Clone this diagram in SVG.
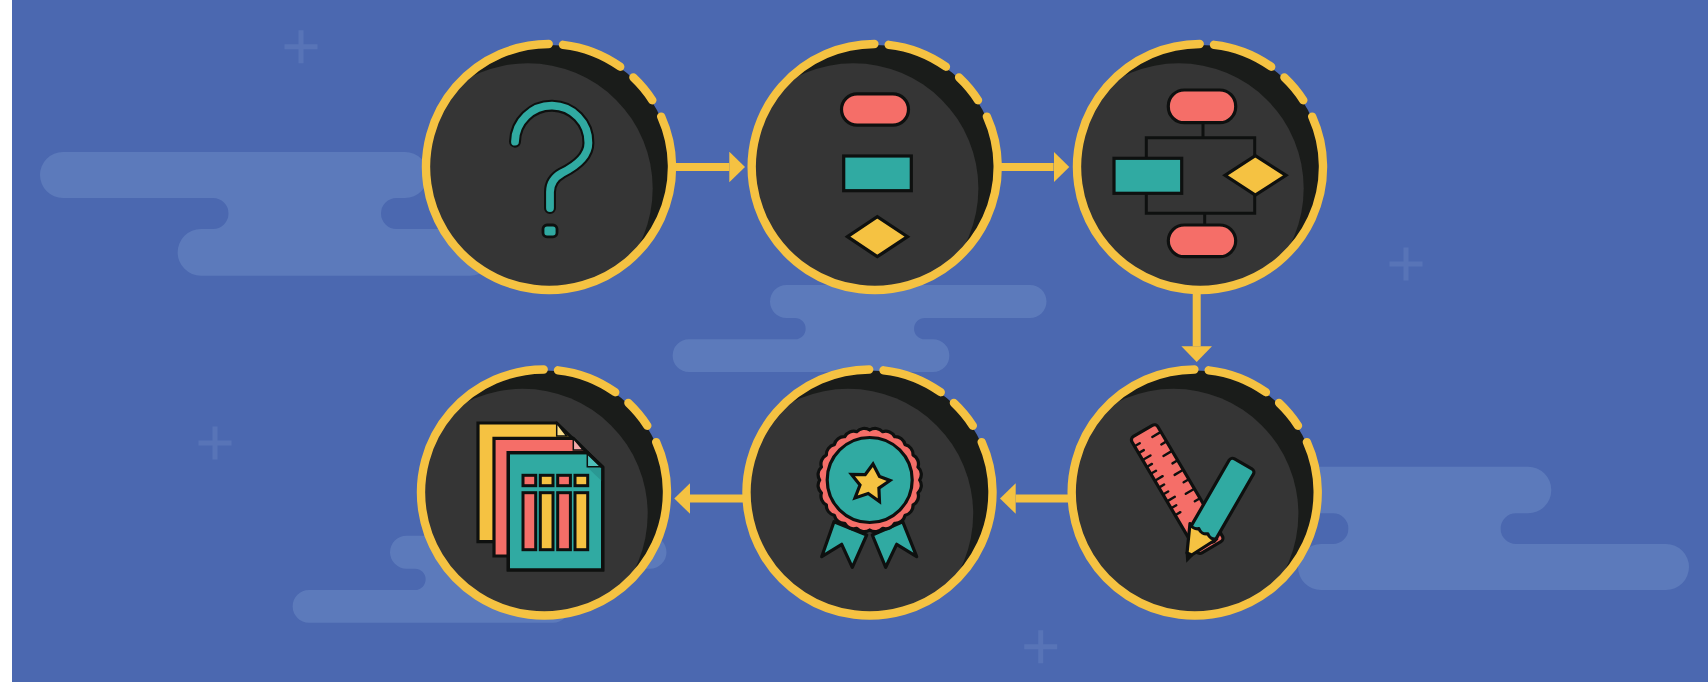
<svg xmlns="http://www.w3.org/2000/svg" xmlns:xlink="http://www.w3.org/1999/xlink" width="1708" height="682" viewBox="0 0 1708 682">
<style>
.cloud{fill:#5c7abb}
.cross{fill:#5874b7}
.conn{stroke:#f5c242;stroke-width:8;fill:none}
.ink{stroke:#0e100f;stroke-width:3.2;stroke-linejoin:round;stroke-linecap:round}
.sharp{stroke:#0e100f;stroke-width:3.2;stroke-linejoin:miter}
.wire{stroke:#0e100f;stroke-width:3;fill:none}
.tick{stroke:#0e100f;stroke-width:2.4;fill:none;stroke-linecap:round}
.teal{fill:#30aaa2}.red{fill:#f56e68}.yel{fill:#f5c242}
</style>
<defs>
<marker id="head" markerUnits="userSpaceOnUse" markerWidth="16" markerHeight="31" refX="0" refY="15.3" orient="auto"><path d="M0,0L15.7,15.3L0,30.6Z" fill="#f5c242"/></marker>
<clipPath id="discClip"><circle r="121"/></clipPath>
<g id="disc">
<circle r="122" fill="#1a1c1a"/>
<g clip-path="url(#discClip)"><circle cx="-21.3" cy="21.3" r="125" fill="#353535"/></g>
<path d="M112.2,-50.4A123,123 0 1 1 -0.3,-123M14,-122.2A123,123 0 0 1 71.2,-100.3M84.4,-89.5A123,123 0 0 1 103.3,-66.8" fill="none" stroke="#f5c242" stroke-width="8.4" stroke-linecap="round"/>
</g>
<path id="cloudA" class="cloud" d="M786.5,285H1030a16.5,16.5 0 0 1 0,33H924.7a10.65,10.65 0 0 0 0,21.3H933a16.35,16.35 0 0 1 0,32.7H689a16.35,16.35 0 0 1 0,-32.7H795a10.65,10.65 0 0 0 0,-21.3H786.5a16.5,16.5 0 0 1 0,-33Z"/>
<path id="plus" class="cross" d="M-2.5,-16.5H2.5V-2.5H16.5V2.5H2.5V16.5H-2.5V2.5H-16.5V-2.5H-2.5Z"/>
</defs>
<rect width="1708" height="682" fill="#fff"/>
<rect x="12" width="1696" height="682" fill="#4b68b0"/>
<g id="background">
<path class="cloud" d="M63,152H405a23,23 0 0 1 0,46H396.5a15.5,15.5 0 0 0 0,31H470a23.3,23.3 0 0 1 0,46.7H201a23.3,23.3 0 0 1 0,-46.7H213a15.5,15.5 0 0 0 0,-31H63a23,23 0 0 1 0,-46Z"/>
<use xlink:href="#cloudA" href="#cloudA"/>
<use xlink:href="#cloudA" href="#cloudA" transform="translate(-380,250.7)"/>
<path class="cloud" d="M1300,466.7H1528a23.3,23.3 0 0 1 0,46.6H1516a15.35,15.35 0 0 0 0,30.7H1666a23,23 0 0 1 0,46H1321a23,23 0 0 1 0,-46H1333a15.35,15.35 0 0 0 0,-30.7H1300a23.3,23.3 0 0 1 0,-46.6Z"/>
<use href="#plus" transform="translate(301,46.7)"/>
<use href="#plus" transform="translate(1406,264)"/>
<use href="#plus" transform="translate(215,443)"/>
<use href="#plus" transform="translate(1040.7,646.7)"/>
</g>
<g id="connectors">
<line class="conn" x1="676" y1="167" x2="729.3" y2="167" marker-end="url(#head)"/>
<line class="conn" x1="1001" y1="167" x2="1053.6" y2="167" marker-end="url(#head)"/>
<line class="conn" x1="1196.7" y1="293" x2="1196.7" y2="346.3" marker-end="url(#head)"/>
<line class="conn" x1="1068" y1="498.5" x2="1015.7" y2="498.5" marker-end="url(#head)"/>
<line class="conn" x1="743" y1="498.5" x2="690" y2="498.5" marker-end="url(#head)"/>
</g>
<g id="node-question">
<use href="#disc" transform="translate(549,167)"/>
<path d="M515,141.7A36.7,36.7 0 0 1 588.4,143C588.4,158 574,167 562,173C553,178 550,184 550,192V208" fill="none" stroke="#0e100f" stroke-width="12" stroke-linecap="round"/>
<path d="M515,141.7A36.7,36.7 0 0 1 588.4,143C588.4,158 574,167 562,173C553,178 550,184 550,192V208" fill="none" stroke="#30aaa2" stroke-width="7.8" stroke-linecap="round"/>
<rect class="teal" x="543" y="225" width="14" height="11.8" rx="4" stroke="#0e100f" stroke-width="2.8"/>
</g>
<g id="node-shapes">
<use href="#disc" transform="translate(874.7,167)"/>
<rect class="red ink" x="841.5" y="93.8" width="67" height="31.4" rx="15.7"/>
<rect class="teal sharp" x="843.7" y="156" width="67.6" height="34.7"/>
<path class="yel sharp" d="M847.5,236.7L877.3,216.7L907.5,236.7L877.3,256.7Z"/>
</g>
<g id="node-flowchart">
<use href="#disc" transform="translate(1200,167)"/>
<path class="wire" d="M1203,123V137.7M1146.3,158V137.7H1254.7V157M1146.3,193V213.3H1254.7V194M1204.7,213.3V225"/>
<rect class="red ink" x="1168.3" y="90" width="67.4" height="32.7" rx="16"/>
<rect class="red ink" x="1168.3" y="225" width="67.4" height="31.7" rx="16"/>
<rect class="teal sharp" x="1114" y="158.3" width="67.7" height="35"/>
<path class="yel sharp" d="M1225,175.3L1255.3,155.7L1286,175.3L1255.3,195Z"/>
</g>
<g id="node-document">
<use href="#disc" transform="translate(544,492.5)"/>
<path class="yel sharp" d="M478,423H556.7L602,467V541.7H478Z"/>
<path d="M556.7,423L566.7,436H556.7Z" fill="#f8dc8a" stroke="#0e100f" stroke-width="1.5"/>
<path class="red sharp" d="M494,438.3H573.3L602,467V556H494Z"/>
<path d="M573.3,438.3L583.3,450H573.3Z" fill="#f5a8a8" stroke="#0e100f" stroke-width="1.5"/>
<path class="teal sharp" d="M508.3,452.7H587.3L602.7,467.3V570H508.3Z"/>
<path d="M587.3,467.3H602.7V482Z" fill="#2a9893"/>
<path d="M587.3,452.7L601,466.7H587.3Z" fill="#4fc0bb" stroke="#0e100f" stroke-width="1.5"/>
<path d="M508.3,452.7H587.3L602.7,467.3V570H508.3Z" fill="none" stroke="#0e100f" stroke-width="3.2"/>
<g stroke="#0e100f" stroke-width="3">
<rect class="red" x="523" y="475.3" width="12.7" height="10.4"/>
<rect class="yel" x="540.3" y="475.3" width="12.7" height="10.4"/>
<rect class="red" x="557.7" y="475.3" width="12.7" height="10.4"/>
<rect class="yel" x="575" y="475.3" width="12.7" height="10.4"/>
<rect class="red" x="523" y="492.7" width="12.7" height="57"/>
<rect class="yel" x="540.3" y="492.7" width="12.7" height="57"/>
<rect class="red" x="557.7" y="492.7" width="12.7" height="57"/>
<rect class="yel" x="575" y="492.7" width="12.7" height="57"/>
</g>
</g>
<g id="node-medal">
<use href="#disc" transform="translate(869.5,492.5)"/>
<path class="teal ink" d="M834,521.7L821.7,556.7L841.7,544.3L852.3,567.3L866.7,535Z"/>
<path class="teal ink" d="M902.7,521.7L916.7,556.7L896.7,544.3L885.7,567.3L872.3,535Z"/>
<g transform="translate(869.7,480)">
<path class="red ink" transform="scale(1.01)" d="M49.5,0A10,10 0 0 1 47.8,12.8A10,10 0 0 1 42.9,24.75A10,10 0 0 1 35,35A10,10 0 0 1 24.75,42.9A10,10 0 0 1 12.8,47.8A10,10 0 0 1 0,49.5A10,10 0 0 1 -12.8,47.8A10,10 0 0 1 -24.75,42.9A10,10 0 0 1 -35,35A10,10 0 0 1 -42.9,24.75A10,10 0 0 1 -47.8,12.8A10,10 0 0 1 -49.5,0A10,10 0 0 1 -47.8,-12.8A10,10 0 0 1 -42.9,-24.75A10,10 0 0 1 -35,-35A10,10 0 0 1 -24.75,-42.9A10,10 0 0 1 -12.8,-47.8A10,10 0 0 1 0,-49.5A10,10 0 0 1 12.8,-47.8A10,10 0 0 1 24.75,-42.9A10,10 0 0 1 35,-35A10,10 0 0 1 42.9,-24.75A10,10 0 0 1 47.8,-12.8A10,10 0 0 1 49.5,0Z"/>
<circle class="teal ink" r="42.5"/>
</g>
<path class="yel sharp" stroke-miterlimit="8" d="M873,464L879.5,476.5L890,480.5L878.9,488.1L879.5,501.5L868.2,493.5L855,498L860,485.1L851.5,474.5L865.2,474.7Z"/>
</g>
<g id="node-tools">
<use href="#disc" transform="translate(1194.7,492.5)"/>
<g transform="translate(1130,438.5) rotate(-30.5)">
<rect class="red ink" width="30" height="135" rx="4"/>
<path class="tick" d="M1,9H6M1,17H6M1,25H9M1,33H6M1,41H6M1,49H9M1,57H6M1,65H6M1,73H9M1,81H6M1,89H6M29,10H20M29,21H24M29,32H20M29,43H24M29,54H20M29,65H24M29,76H20M29,87H24"/>
</g>
<rect class="teal ink" x="-14" y="-113" width="28" height="84" rx="4" transform="translate(1186.7,561.7) rotate(30)"/>
<path class="yel ink" d="M1190,523.5A8,8 0 0 0 1198.9,528.7A8,8 0 0 0 1207.8,533.8A8,8 0 0 0 1216.7,539L1191.7,555L1187,553Z"/>
<path d="M1185.5,552L1193,556L1186.3,562.7Z" fill="#0e100f"/>
</g>
</svg>
